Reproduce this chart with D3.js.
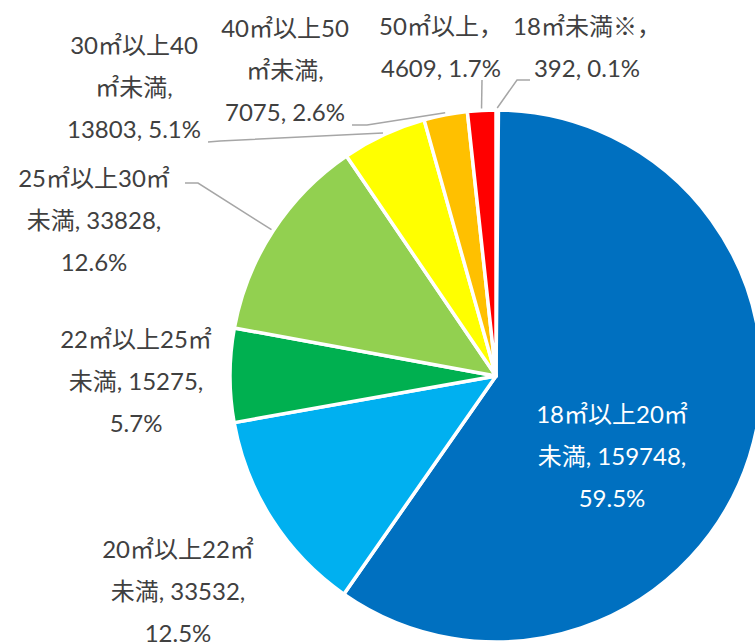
<!DOCTYPE html>
<html><head><meta charset="utf-8">
<script src="https://cdn.jsdelivr.net/npm/d3@7"></script>
<style>html,body{margin:0;padding:0;background:#fff;overflow:hidden}</style>
</head><body>
<svg id="c" width="755" height="643"></svg>
<script>
const categories = ["18㎡未満※","18㎡以上20㎡未満","20㎡以上22㎡未満","22㎡以上25㎡未満","25㎡以上30㎡未満","30㎡以上40㎡未満","40㎡以上50㎡未満","50㎡以上"];
const values = [392,159748,33532,15275,33828,13803,7075,4609];
const percents = ["0.1%","59.5%","12.5%","5.7%","12.6%","5.1%","2.6%","1.7%"];
const labelLines = [
  ["18㎡未満※，","392, 0.1%"],
  ["18㎡以上20㎡","未満, 159748,","59.5%"],
  ["20㎡以上22㎡","未満, 33532,","12.5%"],
  ["22㎡以上25㎡","未満, 15275,","5.7%"],
  ["25㎡以上30㎡","未満, 33828,","12.6%"],
  ["30㎡以上40","㎡未満,","13803, 5.1%"],
  ["40㎡以上50","㎡未満,","7075, 2.6%"],
  ["50㎡以上，","4609, 1.7%"]
];
const colors = ["#A5A5A5","#0070C0","#00B0F0","#00B050","#92D050","#FFFF00","#FFC000","#FF0000"];

// layout (not data)
const cx = 496, cy = 376, R = 266;
const labelPos = [[587,25],[612,413],[178,548],[136,338],[94,177],[134,44],[285,27],[441,25]];
const lineGap = 42;
const leaders = {0:[[530,80],[517,80]],4:[[185,183],[198,183]],5:[[208,142],[220,141]],6:[[352,125],[367,125]],7:[[482,80],[482,80]]};

const svg = d3.select("#c");
const pie = d3.pie().sort(null).value(d=>d);
const arcs = pie(values);
const arc = d3.arc().innerRadius(0).outerRadius(R);
const g = svg.append("g").attr("transform",`translate(${cx},${cy})`);
g.selectAll("path").data(arcs).join("path")
  .attr("d",arc).attr("fill",(d,i)=>colors[i])
  .attr("stroke","#fff").attr("stroke-width",3.5).attr("stroke-linejoin","round");

// leader lines
Object.entries(leaders).forEach(([k,pts])=>{
  const a = arcs[+k]; const m = (a.startAngle+a.endAngle)/2;
  const end = [cx + (R+2)*Math.sin(m), cy - (R+2)*Math.cos(m)];
  const p = [...pts, end];
  svg.append("path").attr("d", d3.line()(p)).attr("fill","none")
    .attr("stroke","#A6A6A6").attr("stroke-width",1.5);
});

// labels
labelLines.forEach((lines,i)=>{
  const t = svg.append("text")
    .attr("text-anchor","middle")
    .attr("font-family","Lato, 'Noto Sans CJK JP', sans-serif")
    .attr("font-size",24)
    .attr("fill", i===1 ? "#fff" : "#404040");
  lines.forEach((s,j)=>{
    t.append("tspan").attr("x",labelPos[i][0]).attr("y",labelPos[i][1]+j*lineGap)
      .attr("dominant-baseline","central").text(s);
  });
});
</script>
</body></html>
